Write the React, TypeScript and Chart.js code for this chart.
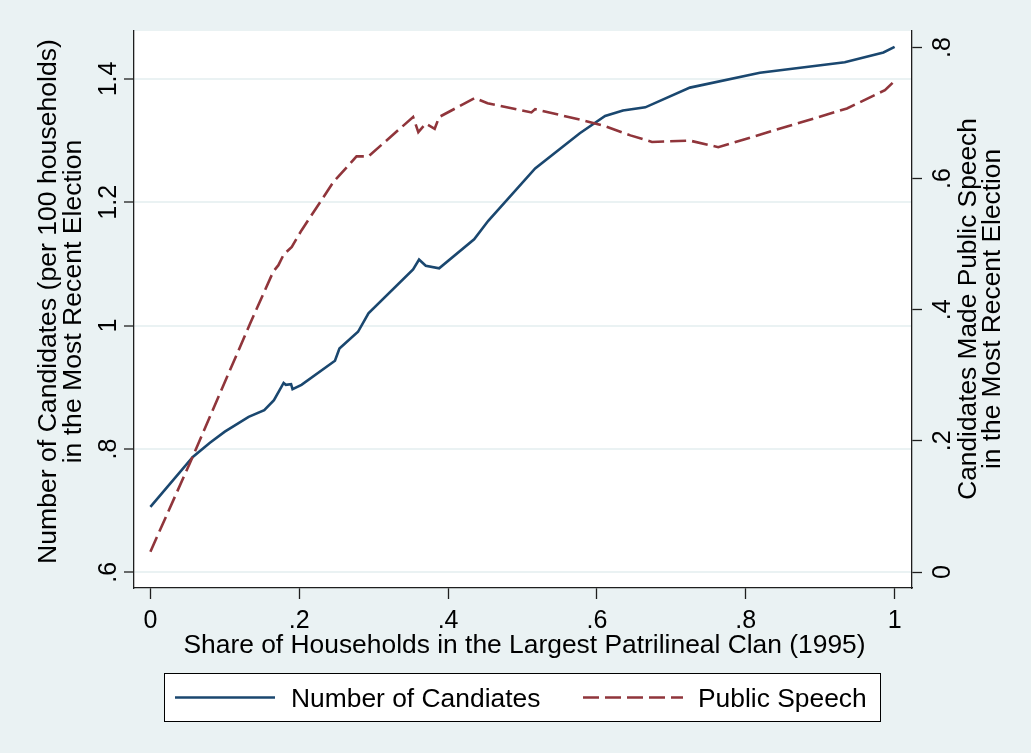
import React, { useEffect, useRef } from 'react';
import { Chart, registerables } from 'chart.js';

Chart.register(...registerables);

const FONT = '"Liberation Sans", Arial, Helvetica, sans-serif';
const BG = '#EAF2F3';
const NAVY = '#1A476F';
const MAROON = '#90353B';
const AXIS = '#1e1e1e';

// Number of candidates (left axis)
const candShare = [0.0, 0.057, 0.08, 0.1, 0.132, 0.153, 0.166, 0.179, 0.182, 0.189, 0.191, 0.203, 0.248, 0.254, 0.279, 0.293, 0.353, 0.361, 0.37, 0.388, 0.435, 0.454, 0.517, 0.577, 0.611, 0.635, 0.665, 0.725, 0.819, 0.933, 0.985, 1.0];
const candValues = [0.706, 0.787, 0.81, 0.828, 0.852, 0.863, 0.879, 0.907, 0.904, 0.905, 0.897, 0.904, 0.943, 0.963, 0.99, 1.02, 1.091, 1.107, 1.097, 1.093, 1.14, 1.17, 1.255, 1.312, 1.34, 1.349, 1.354, 1.386, 1.41, 1.427, 1.443, 1.452];

// Public speech (right axis)
const speechShare = [0.0, 0.053, 0.134, 0.165, 0.172, 0.179, 0.19, 0.203, 0.246, 0.277, 0.293, 0.353, 0.36, 0.37, 0.382, 0.388, 0.436, 0.453, 0.512, 0.517, 0.577, 0.611, 0.645, 0.674, 0.725, 0.763, 0.936, 0.987, 1.0];
const speechValues = [0.031, 0.166, 0.379, 0.458, 0.468, 0.484, 0.496, 0.521, 0.595, 0.634, 0.634, 0.694, 0.671, 0.684, 0.676, 0.694, 0.723, 0.715, 0.701, 0.706, 0.69, 0.68, 0.666, 0.656, 0.658, 0.648, 0.707, 0.735, 0.749];

const xTicks = [0, 0.2, 0.4, 0.6, 0.8, 1];
const xTickLabels = ['0', '.2', '.4', '.6', '.8', '1'];
const leftTicks = [0.6, 0.8, 1, 1.2, 1.4];
const leftTickLabels = ['.6', '.8', '1', '1.2', '1.4'];
const rightTicks = [0, 0.2, 0.4, 0.6, 0.8];
const rightTickLabels = ['0', '.2', '.4', '.6', '.8'];

const seriesNames = ['Number of Candiates', 'Public Speech'];
const xTitle = 'Share of Households in the Largest Patrilineal Clan (1995)';
const leftTitle = ['Number of Candidates (per 100 households)', 'in the Most Recent Election'];
const rightTitle = ['Candidates Made Public Speech', 'in the Most Recent Election'];

export default function App() {
  const ref = useRef<HTMLCanvasElement>(null);

  useEffect(() => {
    const canvas = ref.current;
    if (!canvas) return;

    const stataPlugin = {
      id: 'stataDecor',
      beforeDraw(chart: any) {
        const { ctx, chartArea: a, width, height } = chart;
        ctx.save();
        ctx.fillStyle = BG;
        ctx.fillRect(0, 0, width, height);
        ctx.fillStyle = '#ffffff';
        ctx.fillRect(a.left, a.top, a.right - a.left, a.bottom - a.top);
        ctx.restore();
      },
      afterDraw(chart: any) {
        const { ctx } = chart;
        const xs = chart.scales.x;
        const yl = chart.scales.y;
        const yr = chart.scales.y1;
        ctx.save();
        ctx.fillStyle = '#000';
        ctx.textBaseline = 'alphabetic';

        // x tick labels
        ctx.font = `25px ${FONT}`;
        ctx.textAlign = 'center';
        xTicks.forEach((v, i) => {
          ctx.fillText(xTickLabels[i], xs.getPixelForValue(v), xs.top + 40);
        });
        // x title
        ctx.font = `26.4px ${FONT}`;
        ctx.fillText(xTitle, 524.5, xs.top + 65);

        // left tick labels (rotated)
        ctx.font = `25px ${FONT}`;
        leftTicks.forEach((v, i) => {
          ctx.save();
          ctx.translate(yl.right - 18, yl.getPixelForValue(v));
          ctx.rotate(-Math.PI / 2);
          ctx.textAlign = 'center';
          ctx.fillText(leftTickLabels[i], 0, 0);
          ctx.restore();
        });
        // right tick labels (rotated)
        rightTicks.forEach((v, i) => {
          ctx.save();
          ctx.translate(yr.left + 38, yr.getPixelForValue(v));
          ctx.rotate(-Math.PI / 2);
          ctx.textAlign = 'center';
          ctx.fillText(rightTickLabels[i], 0, 0);
          ctx.restore();
        });

        // left title
        ctx.font = `26.6px ${FONT}`;
        const leftBase = [56, 81];
        leftTitle.forEach((t, i) => {
          ctx.save();
          ctx.translate(leftBase[i], 301.5);
          ctx.rotate(-Math.PI / 2);
          ctx.textAlign = 'center';
          ctx.fillText(t, 0, 0);
          ctx.restore();
        });
        // right title
        ctx.font = `26.3px ${FONT}`;
        const rightBase = [976, 1000];
        rightTitle.forEach((t, i) => {
          ctx.save();
          ctx.translate(rightBase[i], 309);
          ctx.rotate(-Math.PI / 2);
          ctx.textAlign = 'center';
          ctx.fillText(t, 0, 0);
          ctx.restore();
        });

        // legend
        ctx.fillStyle = '#ffffff';
        ctx.fillRect(164.5, 673.5, 716, 48);
        ctx.strokeStyle = '#000';
        ctx.lineWidth = 1;
        ctx.strokeRect(164.5, 673.5, 716, 48);

        ctx.lineWidth = 2.6;
        ctx.strokeStyle = NAVY;
        ctx.beginPath();
        ctx.moveTo(175, 697.5);
        ctx.lineTo(275, 697.5);
        ctx.stroke();

        ctx.strokeStyle = MAROON;
        ctx.setLineDash([16, 6]);
        ctx.beginPath();
        ctx.moveTo(583, 697.5);
        ctx.lineTo(683, 697.5);
        ctx.stroke();
        ctx.setLineDash([]);

        ctx.fillStyle = '#000';
        ctx.font = `26.4px ${FONT}`;
        ctx.textAlign = 'left';
        ctx.fillText(seriesNames[0], 291, 707);
        ctx.fillText(seriesNames[1], 698, 707);

        ctx.restore();
      },
    };

    const chart = new Chart(canvas, {
      type: 'line',
      data: {
        datasets: [
          {
            label: seriesNames[0],
            data: candShare.map((x, i) => ({ x, y: candValues[i] })),
            borderColor: NAVY,
            borderWidth: 2.6,
            pointRadius: 0,
            tension: 0,
            fill: false,
            yAxisID: 'y',
            order: 1,
          },
          {
            label: seriesNames[1],
            data: speechShare.map((x, i) => ({ x, y: speechValues[i] })),
            borderColor: MAROON,
            borderWidth: 2.6,
            borderDash: [16, 6],
            pointRadius: 0,
            tension: 0,
            fill: false,
            yAxisID: 'y1',
            order: 0,
          },
        ],
      },
      options: {
        responsive: false,
        animation: false,
        devicePixelRatio: 1,
        layout: { padding: { top: 31, left: 0, right: 0, bottom: 0 } },
        plugins: {
          legend: { display: false },
          tooltip: { enabled: false },
          title: { display: false },
        },
        scales: {
          x: {
            type: 'linear',
            position: 'bottom',
            min: -0.02204,
            max: 1.02338,
            afterBuildTicks: (s: any) => {
              s.ticks = xTicks.map((v) => ({ value: v }));
            },
            afterFit: (s: any) => {
              s.height = 165;
            },
            ticks: { display: false },
            grid: {
              drawOnChartArea: false,
              drawTicks: true,
              tickLength: 11,
              tickColor: AXIS,
              tickWidth: 1.3,
            },
            border: { display: true, color: AXIS, width: 1.3 },
          },
          y: {
            type: 'linear',
            position: 'left',
            min: 0.5745,
            max: 1.4778,
            afterBuildTicks: (s: any) => {
              s.ticks = leftTicks.map((v) => ({ value: v }));
            },
            afterFit: (s: any) => {
              s.width = 134;
            },
            ticks: { display: false },
            grid: {
              drawOnChartArea: true,
              color: BG,
              lineWidth: 2,
              drawTicks: true,
              tickLength: 10,
              tickColor: AXIS,
              tickWidth: 1.3,
            },
            border: { display: true, color: AXIS, width: 1.3 },
          },
          y1: {
            type: 'linear',
            position: 'right',
            min: -0.0244,
            max: 0.8252,
            afterBuildTicks: (s: any) => {
              s.ticks = rightTicks.map((v) => ({ value: v }));
            },
            afterFit: (s: any) => {
              s.width = 119;
            },
            ticks: { display: false },
            grid: {
              drawOnChartArea: false,
              drawTicks: true,
              tickLength: 10,
              tickColor: AXIS,
              tickWidth: 1.3,
            },
            border: { display: true, color: AXIS, width: 1.3 },
          },
        },
      },
      plugins: [stataPlugin],
    });

    return () => {
      chart.destroy();
    };
  }, []);

  return (
    <div style={{ position: 'fixed', left: 0, top: 0, width: 1031, height: 753, background: BG }}>
      <canvas ref={ref} width={1031} height={753} style={{ display: 'block', width: 1031, height: 753 }} />
    </div>
  );
}
